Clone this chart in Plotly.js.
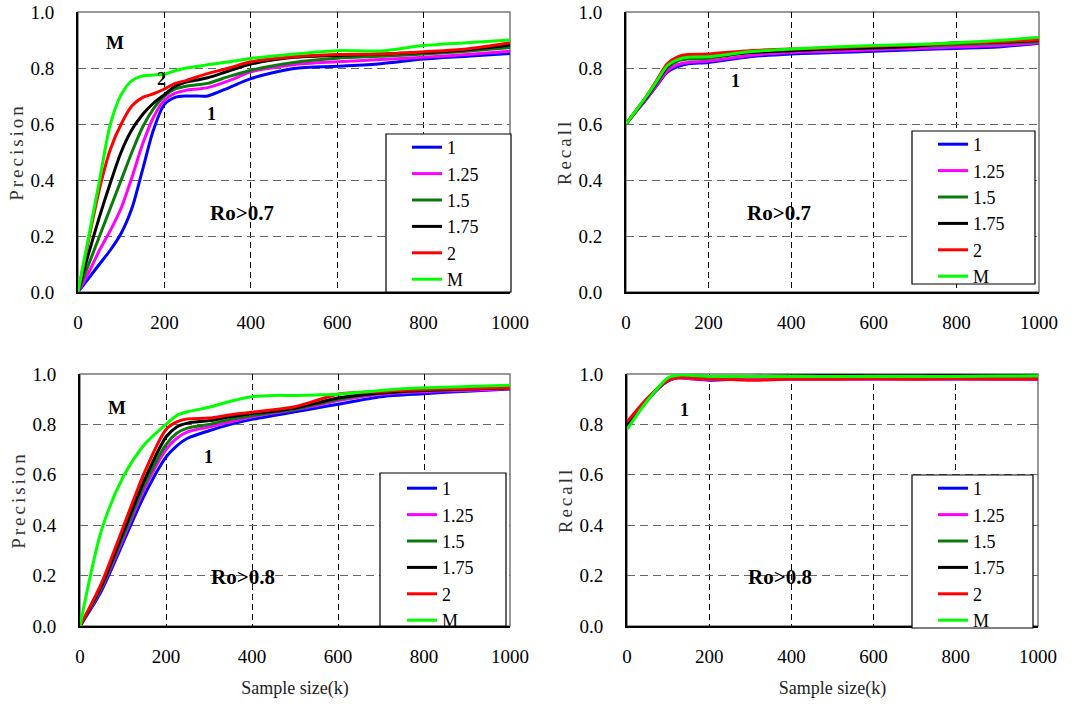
<!DOCTYPE html>
<html>
<head>
<meta charset="utf-8">
<script src="https://cdn.plot.ly/plotly-3.0.1.min.js"></script>
<style>
  html, body { margin: 0; padding: 0; background: #fff; }
  #chart { width: 1077px; height: 704px; }
  .ytitle, .y2title, .y3title, .y4title { letter-spacing: 3px; }
</style>
</head>
<body>
<div id="chart"></div>
<script>
// ---- Series definitions ----
const SERIES_NAMES = ['1', '1.25', '1.5', '1.75', '2', 'M'];
const SERIES_COLORS = ['#0000FF', '#FF00FF', '#0A7A0A', '#000000', '#FF0000', '#00FF00'];

// ---- Panel 1: Precision, Ro>0.7 ----
const X_P7 = [0, 25, 50, 75, 100, 125, 150, 175, 200, 225, 250, 275, 300, 350, 400, 500, 600, 700, 800, 900, 1000];
const P7_1    = [0, 0.05, 0.10, 0.15, 0.21, 0.30, 0.44, 0.58, 0.67, 0.695, 0.70, 0.70, 0.70, 0.73, 0.762, 0.798, 0.806, 0.815, 0.832, 0.842, 0.852];
const P7_125  = [0, 0.07, 0.15, 0.22, 0.30, 0.41, 0.53, 0.625, 0.685, 0.71, 0.72, 0.725, 0.73, 0.755, 0.786, 0.812, 0.822, 0.83, 0.838, 0.848, 0.86];
const P7_15   = [0, 0.10, 0.20, 0.30, 0.40, 0.50, 0.59, 0.655, 0.70, 0.725, 0.735, 0.74, 0.745, 0.77, 0.792, 0.82, 0.835, 0.842, 0.85, 0.86, 0.873];
const P7_175  = [0, 0.14, 0.27, 0.39, 0.50, 0.58, 0.635, 0.675, 0.705, 0.735, 0.75, 0.757, 0.765, 0.79, 0.814, 0.838, 0.845, 0.85, 0.855, 0.865, 0.882];
const P7_2    = [0, 0.19, 0.37, 0.51, 0.60, 0.665, 0.695, 0.708, 0.725, 0.745, 0.755, 0.768, 0.78, 0.80, 0.822, 0.84, 0.848, 0.85, 0.858, 0.868, 0.89];
const P7_M    = [0, 0.20, 0.40, 0.60, 0.705, 0.755, 0.772, 0.775, 0.778, 0.79, 0.80, 0.805, 0.812, 0.822, 0.834, 0.85, 0.862, 0.861, 0.88, 0.89, 0.90];

// ---- Panel 2: Recall, Ro>0.7 ----
const X_R7 = [0, 25, 50, 75, 100, 125, 150, 200, 300, 400, 500, 600, 700, 800, 900, 1000];
const R7_1    = [0.6, 0.645, 0.69, 0.738, 0.785, 0.805, 0.815, 0.82, 0.84, 0.85, 0.855, 0.86, 0.865, 0.87, 0.875, 0.888];
const R7_125  = [0.6, 0.646, 0.692, 0.741, 0.79, 0.812, 0.82, 0.825, 0.845, 0.855, 0.86, 0.865, 0.87, 0.875, 0.88, 0.89];
const R7_15   = [0.6, 0.648, 0.695, 0.748, 0.80, 0.825, 0.832, 0.835, 0.855, 0.862, 0.868, 0.872, 0.878, 0.883, 0.888, 0.895];
const R7_175  = [0.6, 0.649, 0.697, 0.751, 0.805, 0.83, 0.838, 0.84, 0.855, 0.862, 0.868, 0.872, 0.878, 0.89, 0.892, 0.898];
const R7_2    = [0.6, 0.65, 0.70, 0.758, 0.815, 0.84, 0.848, 0.85, 0.862, 0.868, 0.872, 0.878, 0.882, 0.888, 0.893, 0.90];
const R7_M    = [0.6, 0.65, 0.70, 0.754, 0.808, 0.83, 0.838, 0.84, 0.858, 0.868, 0.875, 0.88, 0.884, 0.89, 0.898, 0.91];

// ---- Panel 3: Precision, Ro>0.8 ----
const X_P8 = [0, 50, 100, 150, 200, 225, 250, 300, 350, 400, 450, 500, 550, 600, 700, 800, 900, 1000];
const P8_1    = [0, 0.14, 0.33, 0.52, 0.67, 0.715, 0.745, 0.775, 0.80, 0.82, 0.835, 0.85, 0.865, 0.88, 0.91, 0.922, 0.932, 0.94];
const P8_125  = [0, 0.15, 0.345, 0.545, 0.70, 0.745, 0.77, 0.79, 0.81, 0.83, 0.845, 0.858, 0.875, 0.895, 0.92, 0.93, 0.935, 0.942];
const P8_15   = [0, 0.155, 0.355, 0.56, 0.72, 0.765, 0.785, 0.80, 0.82, 0.835, 0.848, 0.86, 0.88, 0.90, 0.925, 0.935, 0.94, 0.945];
const P8_175  = [0, 0.16, 0.37, 0.58, 0.75, 0.79, 0.805, 0.815, 0.83, 0.843, 0.852, 0.865, 0.885, 0.905, 0.925, 0.935, 0.94, 0.945];
const P8_2    = [0, 0.17, 0.39, 0.61, 0.78, 0.81, 0.822, 0.825, 0.838, 0.848, 0.858, 0.87, 0.895, 0.92, 0.93, 0.938, 0.942, 0.945];
const P8_M    = [0, 0.38, 0.59, 0.72, 0.80, 0.835, 0.85, 0.868, 0.892, 0.91, 0.915, 0.915, 0.917, 0.92, 0.935, 0.945, 0.95, 0.955];

// ---- Panel 4: Recall, Ro>0.8 ----
const X_R8 = [0, 50, 100, 125, 150, 200, 250, 300, 400, 500, 600, 700, 800, 900, 1000];
const R8_1    = [0.80, 0.90, 0.972, 0.985, 0.982, 0.975, 0.978, 0.98, 0.98, 0.98, 0.98, 0.98, 0.98, 0.98, 0.98];
const R8_125  = [0.80, 0.90, 0.975, 0.985, 0.982, 0.978, 0.98, 0.98, 0.98, 0.98, 0.98, 0.98, 0.98, 0.98, 0.978];
const R8_15   = [0.79, 0.895, 0.98, 0.99, 0.99, 0.99, 0.99, 0.99, 0.99, 0.992, 0.992, 0.992, 0.993, 0.993, 0.993];
const R8_175  = [0.795, 0.90, 0.98, 0.992, 0.992, 0.99, 0.99, 0.99, 0.992, 0.995, 0.993, 0.993, 0.997, 0.995, 0.995];
const R8_2    = [0.81, 0.905, 0.975, 0.985, 0.985, 0.98, 0.978, 0.975, 0.98, 0.98, 0.982, 0.98, 0.982, 0.98, 0.98];
const R8_M    = [0.78, 0.895, 0.985, 0.995, 0.995, 0.99, 0.99, 0.99, 0.99, 0.99, 0.99, 0.99, 0.99, 0.992, 0.993];

const X_TICKS = [0, 200, 400, 600, 800, 1000];
const Y_TICKS = [0, 0.2, 0.4, 0.6, 0.8, 1.0];

const PANELS = [
  { x: X_P7, ys: [P7_1, P7_125, P7_15, P7_175, P7_2, P7_M], xa: 'x',  ya: 'y',  legend: 'legend' },
  { x: X_R7, ys: [R7_1, R7_125, R7_15, R7_175, R7_2, R7_M], xa: 'x2', ya: 'y2', legend: 'legend2' },
  { x: X_P8, ys: [P8_1, P8_125, P8_15, P8_175, P8_2, P8_M], xa: 'x3', ya: 'y3', legend: 'legend3' },
  { x: X_R8, ys: [R8_1, R8_125, R8_15, R8_175, R8_2, R8_M], xa: 'x4', ya: 'y4', legend: 'legend4' }
];

const FONT = 'Liberation Serif';

const traces = [];
PANELS.forEach(p => {
  p.ys.forEach((ys, i) => {
    traces.push({
      type: 'scatter', mode: 'lines',
      x: p.x, y: ys,
      name: SERIES_NAMES[i],
      xaxis: p.xa, yaxis: p.ya,
      legend: p.legend,
      line: { color: SERIES_COLORS[i], width: 3, shape: 'spline', smoothing: 0.8 },
      hoverinfo: 'x+y+name'
    });
  });
});

function xAxis(domain, anchor, title) {
  const ax = {
    domain: domain, anchor: anchor, range: [0, 1000],
    tickvals: X_TICKS, ticks: '', ticklabelstandoff: 12,
    tickfont: { family: FONT, size: 19, color: '#000' },
    showgrid: true, gridcolor: '#000', gridwidth: 1, griddash: '6px,4px',
    zeroline: false, showline: true, linecolor: '#000', linewidth: 2,
    fixedrange: true
  };
  if (title) ax.title = { text: title, font: { family: FONT, size: 18, color: '#222' }, standoff: 16 };
  return ax;
}
function yAxis(domain, anchor, title) {
  return {
    domain: domain, anchor: anchor, range: [0, 1],
    tickvals: Y_TICKS, tickformat: '.1f', ticks: '', ticklabelstandoff: 18,
    tickfont: { family: FONT, size: 19, color: '#000' },
    showgrid: true, gridcolor: '#666', gridwidth: 1, griddash: '8px,5px',
    zeroline: false, showline: true, linecolor: '#000', linewidth: 2,
    title: { text: title, font: { family: FONT, size: 19, color: '#333' }, standoff: 2 },
    fixedrange: true
  };
}

const TOP = [1 - 292 / 704, 1 - 12 / 704];
const BOT = [1 - 626 / 704, 1 - 374 / 704];

function legendAt(px, py) {
  return {
    x: px / 1077, y: 1 - py / 704, xanchor: 'left', yanchor: 'top',
    bgcolor: 'rgba(0,0,0,0)', borderwidth: 0,
    font: { family: FONT, size: 18, color: '#000' },
    tracegroupgap: 0
  };
}

function boxShape(x0, y0, x1, y1) {
  return { type: 'rect', xref: 'paper', yref: 'paper', layer: 'above',
    x0: x0 / 1077, x1: x1 / 1077, y0: 1 - y1 / 704, y1: 1 - y0 / 704,
    fillcolor: '#fff', line: { color: '#000', width: 1.2 } };
}
function frame(xr, yr) {
  return { type: 'rect', xref: xr + ' domain', yref: yr + ' domain', layer: 'below',
    x0: 0, x1: 1, y0: 0, y1: 1, line: { color: '#777', width: 1.5 } };
}

function ann(xr, yr, x, y, text, size) {
  return { xref: xr, yref: yr, x: x, y: y, text: '<b>' + text + '</b>', showarrow: false,
    font: { family: FONT, size: size, color: '#000' } };
}

const layout = {
  width: 1077, height: 704,
  margin: { l: 0, r: 0, t: 0, b: 0 },
  paper_bgcolor: '#fff', plot_bgcolor: '#fff',
  font: { family: FONT, color: '#000' },
  showlegend: true,
  xaxis:  xAxis([78 / 1077, 510 / 1077], 'y', null),
  yaxis:  yAxis(TOP, 'x', 'Precision'),
  xaxis2: xAxis([626 / 1077, 1039 / 1077], 'y2', null),
  yaxis2: yAxis(TOP, 'x2', 'Recall'),
  xaxis3: xAxis([80 / 1077, 510 / 1077], 'y3', 'Sample size(k)'),
  yaxis3: yAxis(BOT, 'x3', 'Precision'),
  xaxis4: xAxis([627 / 1077, 1038 / 1077], 'y4', 'Sample size(k)'),
  yaxis4: yAxis(BOT, 'x4', 'Recall'),
  legend:  legendAt(407, 129),
  legend2: legendAt(933, 126),
  legend3: legendAt(402, 470),
  legend4: legendAt(933, 470),
  shapes: [
    frame('x', 'y'), frame('x2', 'y2'), frame('x3', 'y3'), frame('x4', 'y4'),
    boxShape(386, 134, 511, 292),
    boxShape(912, 131, 1035, 284),
    boxShape(380, 473, 506, 626),
    boxShape(912, 475, 1033, 628)
  ],
  annotations: [
    ann('x', 'y', 86, 0.89, 'M', 19),
    ann('x', 'y', 194, 0.76, '2', 18),
    ann('x', 'y', 310, 0.636, '1', 18),
    ann('x', 'y', 380, 0.282, 'Ro&gt;0.7', 21),
    ann('x2', 'y2', 266, 0.754, '1', 18),
    ann('x2', 'y2', 370, 0.282, 'Ro&gt;0.7', 21),
    ann('x3', 'y3', 86, 0.869, 'M', 19),
    ann('x3', 'y3', 298, 0.67, '1', 18),
    ann('x3', 'y3', 379, 0.194, 'Ro&gt;0.8', 21),
    ann('x4', 'y4', 139, 0.857, '1', 18),
    ann('x4', 'y4', 372, 0.194, 'Ro&gt;0.8', 21)
  ]
};

Plotly.newPlot('chart', traces, layout, { displayModeBar: false, staticPlot: true });
</script>
</body>
</html>
